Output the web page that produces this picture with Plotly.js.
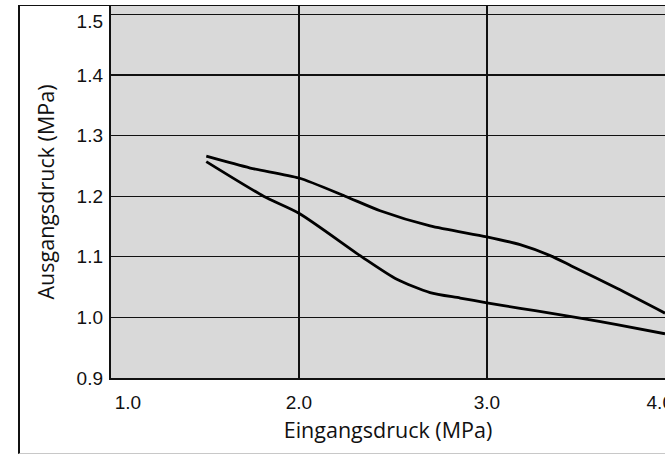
<!DOCTYPE html>
<html>
<head>
<meta charset="utf-8">
<script src="https://cdn.plot.ly/plotly-3.0.1.min.js"></script>
<style>
  html, body { margin: 0; padding: 0; background: #fff; overflow: hidden; width: 665px; height: 455px; }
  #frame { position: absolute; left: 18px; top: 5px; width: 700px; height: 447px;
           border-left: 2px solid #111; border-top: 1px solid #111; border-bottom: 1px solid #c8c8c8; }
  #chart { position: absolute; left: 0; top: 0; width: 645px; height: 447px; }
</style>
</head>
<body>
<div id="frame"><div id="chart"></div></div>
<script>
// Eingangsdruck (MPa) -> Ausgangsdruck (MPa)
const upperX = [1.507, 1.741, 2.0, 2.246, 2.432, 2.698, 3.0, 3.177, 3.337, 3.45, 3.692, 3.948];
const upperY = [1.266, 1.2465, 1.230, 1.200, 1.176, 1.151, 1.133, 1.120, 1.102, 1.085, 1.048, 1.007];
const lowerX = [1.507, 1.812, 2.0, 2.335, 2.521, 2.698, 2.858, 3.0, 3.177, 3.337, 3.512, 3.692, 3.948];
const lowerY = [1.257, 1.200, 1.172, 1.100, 1.063, 1.041, 1.032, 1.024, 1.015, 1.007, 0.998, 0.988, 0.973];

const xGridVals = [1, 2, 3, 4];
const xTickPos = [1.09, 2, 3, 3.92];
const xTickText = ["1.0", "2.0", "3.0", "4.0"];
const yGridVals = [0.9, 1.0, 1.1, 1.2, 1.3, 1.4, 1.5];
const yTickPos = [0.9, 1.0, 1.1, 1.2, 1.3, 1.4, 1.488];
const yTickText = ["0.9", "1.0", "1.1", "1.2", "1.3", "1.4", "1.5"];

const xTitle = "Eingangsdruck (MPa)";
const yTitle = "Ausgangsdruck (MPa)";

const lineStyle = { color: "#000", width: 2.8, shape: "spline", smoothing: 0.7 };

const traces = [
  { x: upperX, y: upperY, type: "scatter", mode: "lines", line: lineStyle, hoverinfo: "skip", showlegend: false },
  { x: lowerX, y: lowerY, type: "scatter", mode: "lines", line: lineStyle, hoverinfo: "skip", showlegend: false, xaxis: "x2", yaxis: "y2" }
];

const tickFont = { family: "Liberation Sans, Arial, sans-serif", size: 19, color: "#111" };
const titleFont = { family: "Open Sans, sans-serif", size: 21.5, color: "#111" };

const layout = {
  width: 645, height: 447,
  margin: { l: 91, r: 0, t: 0, b: 75, pad: 0 },
  paper_bgcolor: "#ffffff",
  plot_bgcolor: "#d9d9d9",
  xaxis: {
    range: [1.0, 3.948],
    tickvals: xGridVals,
    showticklabels: false,
    ticks: "",
    showgrid: true, gridcolor: "#111", gridwidth: 1.3,
    zeroline: false,
    showline: true, linecolor: "#111", linewidth: 1.6,
    fixedrange: true
  },
  xaxis2: {
    overlaying: "x", matches: "x", side: "bottom",
    tickvals: xTickPos, ticktext: xTickText,
    ticks: "", ticklabelstandoff: 11, ticklabeloverflow: "allow",
    showgrid: false, zeroline: false, showline: false,
    tickfont: tickFont,
    title: { text: xTitle, font: titleFont, standoff: 10 },
    fixedrange: true
  },
  yaxis: {
    range: [0.9, 1.5139],
    tickvals: yGridVals,
    showticklabels: false,
    ticks: "",
    showgrid: true, gridcolor: "#111", gridwidth: 1.3,
    zeroline: false,
    showline: true, linecolor: "#111", linewidth: 1.6,
    fixedrange: true
  },
  yaxis2: {
    overlaying: "y", matches: "y", side: "left",
    tickvals: yTickPos, ticktext: yTickText,
    ticks: "", ticklabelstandoff: 7, ticklabeloverflow: "allow",
    showgrid: false, zeroline: false, showline: false,
    tickfont: tickFont,
    title: { text: yTitle, font: titleFont, standoff: 16 },
    fixedrange: true
  }
};

Plotly.newPlot("chart", traces, layout, { staticPlot: true, displayModeBar: false });
</script>
</body>
</html>
